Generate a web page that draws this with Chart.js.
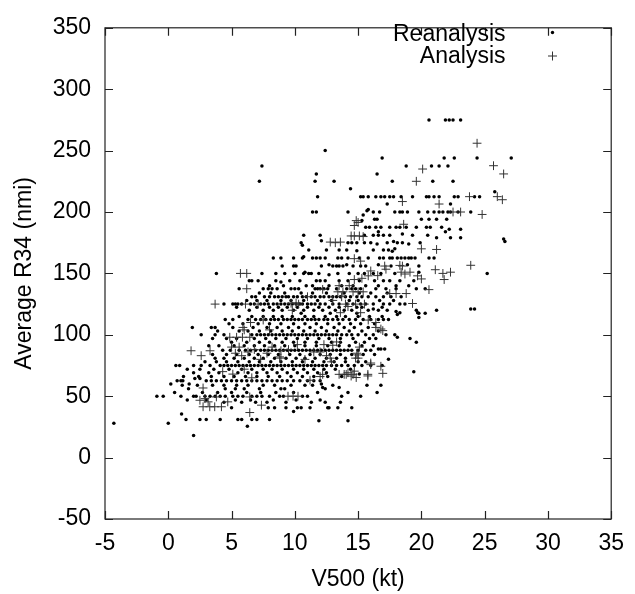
<!DOCTYPE html>
<html><head><meta charset="utf-8">
<script src="https://cdn.jsdelivr.net/npm/chart.js@4"></script>
<style>html,body{margin:0;padding:0;background:#fff;overflow:hidden}canvas{display:block}</style>
</head><body>
<canvas id="c" width="635" height="594"></canvas>
<script>
const seriesNames = ['Reanalysis', 'Analysis'];
const xTickValues = [-5, 0, 5, 10, 15, 20, 25, 30, 35];
const yTickValues = [-50, 0, 50, 100, 150, 200, 250, 300, 350];
const xTitle = 'V500 (kt)';
const yTitle = 'Average R34 (nmi)';

// Reanalysis points [V500, R34]
const reanalysisPoints = [
  [20.6,275],[21.9,275],[22.2,275],[22.5,275],[23.1,275],
  [12.4,250],
  [16.9,244],[21.8,244],[22.6,244],[24.4,244],[27.1,244],
  [7.4,237.5],[18.8,237.5],[20.8,237.5],[21.4,237.5],[22.1,237.5],
  [11.7,231],[16.5,231],
  [7.2,225],[11.6,225],[13.1,225],[17.7,225],[20.9,225],[22.5,225],
  [14.4,219],[25.8,216.5],
  [11.8,212.5],[15.2,212.5],[15.4,212.5],[15.8,212.5],[16.4,212.5],[16.8,212.5],[17.1,212.5],[17.5,212.5],[17.8,212.5],[18.4,212.5],[19.3,212.5],[20.4,212.5],[20.6,212.5],[21.0,212.5],[21.4,212.5],[22.6,212.5],[22.9,212.5],[24.2,212.5],[24.6,212.5],
  [17.3,206.5],[22.3,206.5],
  [11.4,200],[11.7,200],[14.2,200],[15.7,201],[15.8,202],[16.2,200],[16.7,200],[17.9,200],[18.3,200],[18.5,200],[18.9,200],[19.8,200],[20.5,200],[21.0,200],[21.4,200],[21.7,200],[22.1,200],[22.3,200],[22.9,200],[23.9,200],
  [15.4,197.5],
  [16.3,194],[16.5,194],[20.0,194],[20.6,194],[21.2,194],[22.0,194],[15.3,193],
  [15.6,187.5],[15.9,187.5],[16.4,187.5],[16.8,187.5],[17.5,187.5],[18.0,187.5],[18.3,187.5],[18.8,187.5],[19.6,187.5],[20.4,187.5],[20.7,187.5],[21.6,187.5],[22.2,186],[23.1,186],
  [16.6,184],[21.9,184],
  [10.7,181],[12.0,181],[15.5,181],[16.2,181],[16.6,181],[17.0,181],[17.5,181],[18.5,182],[19.3,181],[20.5,181],[21.2,179],[22.3,179],[23.1,179],
  [26.5,178],[26.6,176],
  [10.5,175],[12.1,176.5],[14.2,175],[14.5,175],[14.9,175],[15.5,175],[16.0,175],[16.5,174],[17.3,175],[17.8,176],[18.1,175],[18.5,175],[19.0,174],[19.9,175],
  [10.6,173],
  [11.1,169],[12.5,169],[13.5,169],[14.1,169],[14.9,168.5],[16.2,169],[17.0,169],[17.4,169],[17.7,168],[17.9,170],
  [8.3,162.5],[8.9,162.5],[9.9,162.5],[10.6,162.5],[10.7,163.5],[11.4,162.5],[11.7,162.5],[12.0,162.5],[12.4,162.5],[13.4,162.5],[13.7,162.5],[14.2,162.5],[15.1,162.5],[15.8,162.5],[16.7,162.5],[17.0,162.5],[17.5,162.5],[17.7,162.5],[18.1,162.5],[18.4,162.5],[18.7,162.5],[19.0,162.5],[19.2,162.5],[19.5,162.5],[20.6,162.5],[21.0,162.5],
  [9.0,156],[9.9,156],[10.1,156],[12.1,156],[12.7,157],[13.0,156],[13.3,156],[13.5,156],[13.8,156],[14.1,157],[14.6,156],[15.2,156],[15.6,156],[16.6,157],[17.6,156],[18.9,157],[19.8,156],
  [3.8,150],[7.4,150],[8.5,150],[9.2,150],[10.0,150],[10.7,150],[10.8,151],[11.1,150],[11.3,150],[11.9,150],[12.7,149],[13.4,150],[14.3,150],[15.0,150],[15.5,150],[16.2,150],[16.8,150],[17.9,150],[19.8,151],[25.2,150],
  [6.4,144],[6.6,144],[7.1,144],[8.5,144],[8.9,143],[9.6,144],[10.4,144],[11.7,144],[12.0,144],[12.4,144],[13.5,144],[14.2,144],[15.1,144],[16.3,144],[17.0,144],[17.5,144],[18.3,144],[19.4,144],
  [8.0,140],[9.1,140],[10.9,140],[11.4,140],[12.7,140],[13.7,140],[14.6,140],[15.6,140],[16.6,140],[18.0,140],[19.0,140],
  [5.6,137.5],[7.5,137.5],[7.9,137.5],[8.2,137.5],[8.6,137.5],[9.7,137.5],[10.0,137.5],[10.3,137.5],[11.6,137.5],[11.8,137.5],[12.0,137.5],[12.3,137.5],[12.6,137.5],[13.3,137.5],[14.1,137.5],[14.5,137.5],[14.8,137.5],[15.2,137.5],[16.4,137.5],[17.2,137.5],[18.0,137.5],[19.6,137.5],[20.3,137.5],
  [7.2,134],[8.1,134],[9.2,134],[10.5,134],[11.4,134],[12.5,134],[13.9,134],[15.1,134],[16.0,134],[17.3,134],
  [6.6,131],[6.9,131],[7.6,131],[8.0,131],[8.4,131],[8.7,131],[9.0,131],[9.3,131],[9.5,131],[9.9,131],[10.2,131],[10.6,131],[10.9,131],[11.3,131],[11.6,131],[12.0,131],[12.3,131],[12.7,131],[13.0,131],[13.3,131],[13.6,131],[14.0,131],[14.4,131],[14.9,131],[15.3,131],[15.8,131],[16.4,131],[17.0,131],[17.6,131],[18.4,131],
  [6.2,128],[7.0,128],[7.8,128],[8.9,128],[9.7,128],[10.7,128],[11.8,128],[12.9,128],[14.3,128],[15.0,128],[16.7,128],[17.8,128],
  [4.4,125],[5.1,125],[5.3,125],[5.5,125],[5.8,125],[6.5,125],[6.8,125],[7.3,125],[7.6,125],[7.9,125],[8.3,125],[8.6,125],[8.9,125],[9.2,125],[9.5,125],[9.8,125],[10.1,125],[10.4,125],[10.6,125],[11.0,125],[11.3,125],[11.6,125],[12.0,125],[12.4,125],[13.0,125],[13.5,125],[14.1,125],[14.6,125],[15.2,125],[15.6,125],[16.2,125],[17.0,125],[17.5,125],[18.3,125],[18.7,125],
  [5.4,122.5],[7.0,122.5],[8.0,122.5],[8.7,122.5],[9.4,122.5],[10.2,122.5],[11.0,122.5],[11.9,122.5],[12.7,122.5],[13.5,122.5],[14.9,122.5],[15.3,122.5],[16.9,122.5],
  [6.4,120],[7.5,120],[8.3,120],[9.0,120],[9.9,120],[10.7,120],[11.5,120],[12.2,120],[13.2,120],[13.9,120],[14.5,120],[15.8,120],[16.2,121],[16.6,120],[17.3,120],[18.0,119],[18.3,118],[19.6,120],[19.7,118],[21.2,120],[23.9,121],[24.2,121],
  [10.5,117.5],[12.8,117.5],[14.9,117.5],[18.1,116.5],[19.8,117.5],[20.3,117.5],
  [5.6,115],[6.6,115],[7.5,115],[8.3,115],[9.0,115],[9.8,115],[10.8,115],[11.5,115],[12.4,115],[13.3,115],[14.0,115],[15.0,115],[15.9,115],[16.9,115],
  [4.5,112.5],[5.1,112.5],[6.3,112.5],[6.9,112.5],[7.3,112.5],[7.7,112.5],[8.1,112.5],[8.4,112.5],[8.7,112.5],[9.1,112.5],[9.4,112.5],[9.7,112.5],[10.0,112.5],[10.3,112.5],[10.6,112.5],[11.0,112.5],[11.3,112.5],[11.6,112.5],[11.9,112.5],[12.3,112.5],[12.6,112.5],[13.0,112.5],[13.4,112.5],[13.8,112.5],[14.3,112.5],[14.8,112.5],[15.4,112.5],[16.0,112.5],[16.6,112.5],[17.0,112.5],[17.4,112.5],[19.8,114],
  [4.8,109],[5.9,109],[7.1,109],[8.0,109],[8.9,109],[9.9,109],[10.8,109],[11.7,109],[12.6,109],[13.5,109],[14.4,109],[15.2,109],[16.3,109],
  [1.9,106],[3.4,106],[3.7,106],[5.1,106],[6.7,106],[7.8,106],[8.6,106],[9.5,106],[10.3,106],[11.2,106],[12.1,106],[13.1,106],[13.9,106],[14.7,106],[15.8,106],
  [3.9,103],[5.6,103],[6.3,103],[7.2,103],[8.1,103],[9.0,103],[9.8,103],[10.7,103],[11.6,103],[12.5,103],[13.4,103],[14.3,103],[15.3,103],[16.6,103],
  [2.6,100],[3.7,100],[4.4,100],[6.6,100],[7.0,100],[7.3,100],[7.6,100],[7.9,100],[8.2,100],[8.5,100],[8.8,100],[9.1,100],[9.4,100],[9.7,100],[10.0,100],[10.3,100],[10.6,100],[10.9,100],[11.2,100],[11.5,100],[11.8,100],[12.1,100],[12.4,100],[12.7,100],[13.0,100],[13.3,100],[13.7,100],[14.1,100],[14.5,100],[15.0,100],[15.6,100],[16.2,100],[17.2,100],[17.9,100],[18.1,98],
  [3.5,97],[4.6,97],[5.4,97],[6.8,97],[7.7,97],[8.5,97],[9.3,97],[10.2,97],[11.0,97],[11.9,97],[12.7,97],[13.6,97],[14.6,97],[15.9,97],[16.4,97],[19.1,97],
  [5.0,94],[6.2,94],[7.2,94],[8.0,94],[9.0,94],[9.9,94],[10.8,94],[11.7,94],[12.9,94],[13.6,94],[14.8,94],[15.5,94],[19.6,94],
  [3.2,91],[4.0,91],[5.2,91],[6.0,91],[6.8,91],[7.6,91],[8.4,91],[9.2,91],[10.0,91],[10.8,91],[11.7,91],[12.6,91],[13.5,91],[14.3,91],[15.3,91],[16.2,91],
  [4.3,87.5],[4.9,87.5],[5.6,87.5],[6.1,87.5],[6.5,87.5],[6.9,87.5],[7.3,87.5],[7.6,87.5],[7.9,87.5],[8.2,87.5],[8.5,87.5],[8.8,87.5],[9.1,87.5],[9.4,87.5],[9.7,87.5],[10.0,87.5],[10.3,87.5],[10.6,87.5],[10.9,87.5],[11.2,87.5],[11.5,87.5],[11.8,87.5],[12.1,87.5],[12.4,87.5],[12.7,87.5],[13.0,87.5],[13.3,87.5],[13.6,87.5],[13.9,87.5],[14.2,87.5],[14.5,87.5],[15.0,87.5],[15.6,87.5],[16.0,87.5],[16.6,88.5],[16.8,88.5],[17.1,88.5],
  [3.5,84],[4.6,84],[5.4,84],[6.4,84],[7.1,84],[7.9,84],[8.7,84],[9.6,84],[10.4,84],[11.2,84],[12.0,84],[12.8,84],[13.6,84],[14.5,84],[15.4,84],[16.3,84],
  [3.7,81],[4.4,81],[5.2,81],[6.0,81],[6.8,81],[7.5,81],[8.4,81],[9.3,81],[10.1,81],[10.8,81],[11.6,81],[12.5,81],[13.3,81],[14.0,81],[17.4,80],
  [2.9,78],[3.8,78],[4.6,78],[5.5,78],[6.4,78],[7.2,78],[8.1,78],[8.9,78],[9.8,78],[10.6,78],[11.4,78],[12.3,78],[13.1,78],[14.0,78],[15.0,78],[15.6,78],
  [0.6,75],[0.9,75],[2.0,75],[2.6,75],[3.3,75],[4.1,75],[4.4,75],[4.7,75],[5.0,75],[5.3,75],[5.6,75],[5.9,75],[6.2,75],[6.5,75],[6.8,75],[7.1,75],[7.4,75],[7.7,75],[8.0,75],[8.3,75],[8.6,75],[8.9,75],[9.2,75],[9.5,75],[9.8,75],[10.1,75],[10.4,75],[10.7,75],[11.0,75],[11.3,75],[11.6,75],[11.9,75],[12.2,75],[12.5,75],[12.9,75],[13.3,75],[13.7,75],[14.2,75],[14.7,75],[15.3,75],[16.0,75],[16.9,75],
  [1.5,72],[2.5,72],[3.6,72],[4.8,72],[5.8,72],[6.6,72],[7.5,72],[8.2,72],[9.0,72],[9.9,72],[10.7,72],[11.5,72],[12.3,72],[13.2,72],[14.4,72],
  [2.0,69],[3.2,69],[4.0,69],[5.5,69],[6.3,69],[7.0,69],[7.8,69],[8.6,69],[9.4,69],[10.2,69],[11.0,69],[11.8,69],[12.5,69],[15.1,68],[19.4,70],
  [1.2,66],[2.4,66],[3.4,66],[4.4,66],[5.2,66],[6.1,66],[7.0,66],[7.9,66],[8.8,66],[9.7,66],[10.6,66],[11.5,66],[12.6,66],[13.7,66],
  [0.7,62.5],[1.0,62.5],[1.15,62.5],[2.1,64.5],[2.5,64.5],[3.0,62.5],[3.4,62.5],[3.8,62.5],[4.2,62.5],[4.6,62.5],[5.0,62.5],[5.4,62.5],[5.8,62.5],[6.2,62.5],[6.6,62.5],[7.0,62.5],[7.4,62.5],[7.8,62.5],[8.2,62.5],[8.6,62.5],[9.0,62.5],[9.4,62.5],[9.9,62.5],[10.4,62.5],[11.0,62.5],[11.5,62.5],[12.0,62.5],
  [0.2,60],[1.65,60],[12.1,60],[15.7,59],[16.8,59],
  [1.1,59],[2.3,59],[3.5,59],[4.4,59],[5.4,59],[6.3,59],[7.5,59],[8.4,59],[9.7,59],[10.8,59],[11.4,59],[13.0,59],
  [1.6,56],[4.5,56],[5.3,56],[6.0,56],[7.2,56],[8.9,56],[9.2,56],[12.2,57],[12.4,56],[13.5,57],
  [0.5,53],[2.7,53],[3.9,53],[5.0,53],[6.2,53],[7.3,53],[8.5,53],[9.9,53],[11.8,53],[14.2,53],[16.5,53],
  [-0.9,50],[-0.4,50],[1.0,50],[2.0,50],[2.2,50],[2.9,50],[3.3,50],[3.7,50],[4.1,50],[4.5,50],[5.1,50],[5.5,50],[5.9,50],[6.6,50],[7.0,50],[7.4,50],[8.0,50],[8.8,50],[9.1,50],[10.6,50],[11.0,50],[13.7,50],[15.2,50],
  [1.5,47],[3.0,47],[5.3,47],[6.5,47],[8.3,47],[10.1,47],[12.0,47],
  [4.4,45],[5.8,45],[6.9,45],[7.8,45],[9.3,45],[11.3,45],[12.4,45],[13.6,45],
  [5.0,40.5],[7.9,40.5],[8.4,40.5],[9.3,40.5],[10.2,40.5],[10.5,40.5],[11.2,40.5],[12.6,40.5],[12.7,40.5],[13.4,40.5],[14.5,40.5],
  [9.9,37.5],[1.05,35.5],
  [1.4,31],[2.5,31],[3.0,31],[4.1,31],[5.5,31],[5.8,31],[6.6,31],[7.0,31],[8.0,31],[11.9,30],[14.2,30],
  [-4.3,28],[0.0,28],[6.25,25.5],[2.0,18]
];

// Analysis points [V500, R34]
const analysisPoints = [
  [24.4,256],[25.7,237.7],[26.5,231],[20.1,235],[19.6,225],[23.8,212.5],[26.0,212.5],[26.4,210],
  [18.5,208.5],[21.4,206.5],[23.1,200],[22.5,200],[24.8,198],[14.85,193],[15.0,191.5],[14.7,189],[18.6,190],
  [14.45,180.5],[14.7,180.5],[15.1,180.5],[15.4,180],[12.8,175.5],[13.2,175],[13.6,175.5],
  [20.0,170],[21.2,169.5],[23.9,156.6],
  [18.5,156],[18.4,151],[18.7,149.5],[19.1,151],[19.7,148],[20.0,145.5],[21.1,153],[21.7,150],[21.8,145],[22.3,151],
  [17.1,156],[16.55,148.2],[17.2,153.4],[16.0,152],[18.3,156.5],
  [17.5,133.6],[18.0,133.6],[18.8,133.6],[20.6,136.8],[19.3,125.5],
  [1.8,87],[2.6,83],[3.3,87],[3.7,125],[2.75,56.7],[2.5,46.7],[2.9,48],[3.15,45.4],[2.75,41.4],[3.28,41.4],[3.67,41.4],[4.2,41.4],[3.8,49.4],[4.7,45.4],[6.44,36.7],[6.44,49.4],[7.36,42.7],
  [4.86,98],[5.4,98],[5.86,98],[6.44,98],[5.0,90],[5.6,90],[5.9,106],[6.1,125],[7.1,125],[6.2,137.5],[5.7,150],[6.2,150],
  [6.0,104],[6.5,110],[7.5,112],[8.0,104],[5.3,85],[5.8,83],[6.3,86],[6.8,88],[7.3,80],[7.8,85],[8.2,90],[8.8,82],
  [4.3,70],[5.1,68],[6.0,72],[6.6,65],[11.2,63],[12.0,66],
  [9.5,88],[10.2,92],[10.8,80],[11.5,86],[12.3,92],[12.9,78],
  [11.0,131],[12.2,137],[13.0,128],[13.7,131],[14.3,140],[13.6,118],[14.2,123],[15.2,118],[15.8,112],
  [14.7,162],[15.2,160],[14.7,145],[15.3,146],[15.8,148],[9.8,120],[10.3,125],[9.7,125.7],[10.1,126],
  [13.4,135],[13.8,135],[14.6,135],[15.0,135],[15.4,135],[13.5,140],[14.0,125],[14.8,125],[15.5,125],
  [15.1,90],[14.9,85],[14.8,81],[13.0,91.5],[12.0,86],[12.5,83],[12.8,81],[8.9,87],[8.9,81],
  [9.46,50],[9.86,50],[10.25,50],[13.3,94.2],[15.0,83.6],[15.0,81],[16.0,75.7],[15.77,67.8],
  [14.7,70.4],[13.9,67.8],[14.2,69.1],[14.45,66.4],[14.85,65.2],[12.2,67.8],[13.5,67.8],[14.06,67.8],[14.6,67.8],[15.77,66.5],
  [16.4,106],[16.8,104.7],[16.4,110],[16.95,103.4],[16.0,77],[16.8,74.4],[16.95,68.6]
];

const toXY = arr => arr.map(p => ({x: p[0], y: p[1]}));
const FONT = 'Liberation Sans, Arial, Helvetica, sans-serif';
const FS = 23;

const framePlugin = {
  id: 'frameTicks',
  afterDatasetsDraw(chart) {
    const {ctx, chartArea: a, scales} = chart;
    ctx.save();
    ctx.strokeStyle = '#222';
    ctx.lineWidth = 1.2;
    ctx.strokeRect(a.left, a.top, a.right - a.left, a.bottom - a.top);
    const L = 8;
    ctx.beginPath();
    xTickValues.forEach(v => {
      const px = Math.round(scales.x.getPixelForValue(v)) + 0.5;
      ctx.moveTo(px, a.bottom); ctx.lineTo(px, a.bottom - L);
      ctx.moveTo(px, a.top); ctx.lineTo(px, a.top + L);
    });
    yTickValues.forEach(v => {
      const py = Math.round(scales.y.getPixelForValue(v)) + 0.5;
      ctx.moveTo(a.left, py); ctx.lineTo(a.left + L, py);
      ctx.moveTo(a.right, py); ctx.lineTo(a.right - L, py);
    });
    ctx.stroke();
    // key
    ctx.font = FS + 'px ' + FONT;
    ctx.fillStyle = '#000';
    ctx.textAlign = 'right';
    ctx.textBaseline = 'alphabetic';
    const ds = chart.data.datasets;
    ctx.fillText(ds[1].label, 505.5, 40.5);
    ctx.fillText(ds[0].label, 505.5, 63);
    ctx.beginPath();
    ctx.fillStyle = '#000';
    ctx.arc(552.5, 32.5, 1.7, 0, Math.PI * 2);
    ctx.fill();
    ctx.beginPath();
    ctx.strokeStyle = '#333';
    ctx.lineWidth = 1;
    ctx.moveTo(548, 56); ctx.lineTo(557, 56);
    ctx.moveTo(552.5, 51.5); ctx.lineTo(552.5, 60.5);
    ctx.stroke();
    ctx.restore();
  }
};

new Chart(document.getElementById('c'), {
  type: 'scatter',
  data: {
    datasets: [
      { label: seriesNames[1], data: toXY(analysisPoints), pointStyle: 'cross', pointRadius: 4.4,
        borderColor: '#333', borderWidth: 1, backgroundColor: '#333', order: 0 },
      { label: seriesNames[0], data: toXY(reanalysisPoints), pointStyle: 'circle', pointRadius: 1.75,
        borderWidth: 0, backgroundColor: '#000', borderColor: '#000', order: 1 }
    ]
  },
  options: {
    responsive: false,
    animation: false,
    devicePixelRatio: 1,
    layout: { padding: { top: 13, right: 23, bottom: 0, left: 0 } },
    plugins: { legend: { display: false }, tooltip: { enabled: false } },
    scales: {
      x: {
        type: 'linear', min: -5, max: 35,
        afterBuildTicks: s => { s.ticks = xTickValues.map(v => ({value: v})); },
        afterFit: s => { s.height = 75; },
        grid: { display: false, drawTicks: false },
        border: { display: false },
        ticks: { padding: 11, color: '#000', font: { size: FS, family: FONT }, maxRotation: 0, autoSkip: false },
        title: { display: true, text: xTitle, color: '#000', font: { size: FS, family: FONT }, padding: { top: 0, bottom: 1 } }
      },
      y: {
        type: 'linear', min: -50, max: 350,
        afterBuildTicks: s => { s.ticks = yTickValues.map(v => ({value: v})); },
        afterFit: s => { s.width = 105; },
        grid: { display: false, drawTicks: false },
        border: { display: false },
        ticks: { padding: 14, color: '#000', font: { size: FS, family: FONT }, autoSkip: false },
        title: { display: true, text: yTitle, color: '#000', font: { size: FS, family: FONT }, padding: { top: 11, bottom: 0 } }
      }
    }
  },
  plugins: [framePlugin]
});
</script>
</body></html>
